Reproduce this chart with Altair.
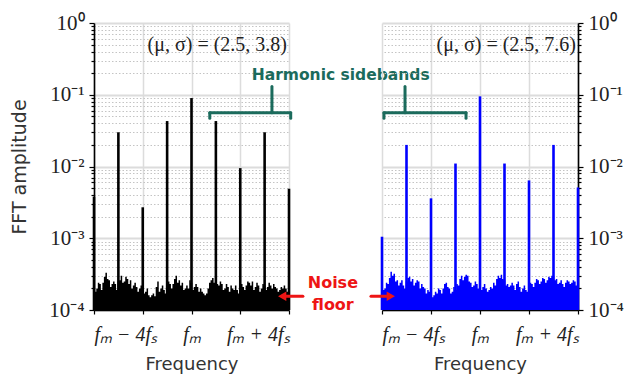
import altair as alt
import pandas as pd

# sideband order n, so frequency = f_m + n * f_s
orders = [-4, -3, -2, -1, 0, 1, 2, 3, 4]
peaks_left = [3.8e-3, 3.0e-2, 2.7e-3, 4.3e-2, 9.0e-2, 4.3e-2, 9.5e-3, 3.0e-2, 4.9e-3]
peaks_right = [1.05e-3, 2.0e-2, 3.6e-3, 1.1e-2, 9.5e-2, 1.1e-2, 6.4e-3, 2.0e-2, 5.1e-3]

# noise floor sampled every f_s/16 across the band, in units of 1e-4
noise_left = [
    2.2, 1.8, 2.0, 2.4, 2.3, 1.9, 2.4, 2.9, 3.3, 2.7,
    2.6, 2.1, 2.3, 2.5, 2.3, 1.9, 2.5, 2.6, 3.0, 2.4,
    2.5, 2.9, 2.7, 2.3, 2.6, 2.0, 2.2, 2.4, 2.1, 1.8,
    2.0, 2.2, 1.9, 1.7, 1.8, 2.0, 1.6, 1.5, 1.6, 1.7,
    1.55, 2.1, 2.5, 1.8, 2.0, 2.2, 1.9, 1.7, 2.0, 2.5,
    2.3, 2.0, 2.3, 2.7, 3.0, 2.4, 2.6, 2.2, 2.4, 1.9,
    2.0, 2.2, 2.0, 2.6, 2.4, 1.9, 2.1, 2.3, 2.1, 1.8,
    2.0, 1.8, 1.7, 1.6, 1.7, 2.0, 2.4, 2.6, 2.8, 2.4,
    2.8, 2.3, 2.2, 2.5, 2.3, 1.9, 2.0, 2.3, 2.1, 1.8,
    2.2, 2.0, 1.9, 2.2, 1.9, 1.7, 2.0, 2.3, 2.1, 1.9,
    2.2, 2.5, 2.4, 2.2, 2.5, 1.9, 2.1, 2.4, 2.2, 1.8,
    2.0, 2.3, 2.2, 1.9, 2.1, 2.4, 2.2, 2.0, 2.3, 2.1,
    2.0, 1.8, 1.9, 2.1, 2.0, 2.2, 2.0, 1.8, 1.9,
]
noise_right = [
    2.2, 1.9, 2.0, 2.4, 2.3, 2.8, 3.4, 3.0, 3.2, 2.5,
    2.6, 2.2, 2.4, 2.6, 2.2, 2.0, 2.5, 2.8, 2.9, 2.5,
    2.7, 2.2, 2.4, 2.6, 2.5, 2.0, 2.3, 2.1, 2.0, 1.7,
    1.9, 1.8, 1.7, 1.5, 1.6, 1.8, 1.7, 2.0, 1.9, 1.7,
    2.0, 2.3, 2.4, 2.1, 2.0, 1.7, 1.8, 2.1, 1.9, 2.3,
    2.2, 2.7, 3.0, 2.6, 2.9, 3.1, 3.0, 2.5, 2.4, 2.1,
    2.2, 2.5, 2.3, 2.0, 2.2, 1.9, 2.1, 2.3, 2.0, 1.8,
    1.9, 2.1, 2.0, 2.4, 2.2, 2.7, 3.0, 2.8, 3.1, 2.7,
    2.6, 2.2, 2.3, 2.1, 2.2, 2.4, 2.2, 1.9, 2.3, 2.5,
    2.1, 1.8, 2.0, 2.2, 1.9, 1.8, 2.0, 2.4, 2.3, 2.1,
    2.4, 2.7, 2.6, 2.3, 2.5, 2.8, 2.7, 2.4, 2.6, 2.9,
    2.8, 3.0, 3.0, 2.6, 2.7, 2.3, 2.4, 2.6, 2.3, 2.1,
    2.4, 2.6, 2.5, 2.3, 2.4, 2.6, 2.5, 2.2, 2.5,
]
noise_freq = [i / 16 - 4 for i in range(129)]

x_ticks = [-4, -2, 0, 2, 4]
y_ticks = [m * 10.0 ** d for d in range(-4, 0) for m in range(1, 10)] + [1.0]

TEAL = "#1b6b5c"
RED = "#ee1515"
SERIF = "Liberation Serif"
SANS = "DejaVu Sans"

EXP = "round(log(datum.value)/LN10)"
IS_MAJOR = f"abs(log(datum.value)/LN10 - {EXP}) < 1e-6"
Y_LABEL = (f"{IS_MAJOR} ? ({EXP} == 0 ? '10⁰' : {EXP} == -1 ? '10⁻¹' : "
           f"{EXP} == -2 ? '10⁻²' : {EXP} == -3 ? '10⁻³' : '10⁻⁴') : ''")
X_LABEL = ("datum.value == -4 ? 'fₘ − 4fₛ' : datum.value == 0 ? 'fₘ' : "
           "datum.value == 4 ? 'fₘ + 4fₛ' : ''")

x_scale = alt.Scale(domain=[-4, 4], nice=False, zero=False)
y_scale = alt.Scale(type="log", domain=[1e-4, 1], nice=False)


def panel(peaks, noise, color, side, y_title):
    spikes = pd.DataFrame({"f": orders, "amp": peaks, "base": 1e-4})
    floor = pd.DataFrame({"f": noise_freq, "amp": [v * 1e-4 for v in noise], "base": 1e-4})

    x_axis = alt.Axis(
        values=x_ticks, labelExpr=X_LABEL, title="Frequency",
        labelFont=SERIF, labelFontStyle="italic", labelFontSize=20, labelColor="#222",
        labelPadding=10, labelOverlap=False,
        titleFont=SANS, titleFontSize=18, titleFontWeight="normal", titleColor="#333",
        titlePadding=11, tickSize=4, tickWidth=1.2,
        grid=True, gridColor="#dcdcdc", gridWidth=1.5,
    )
    y_axis = alt.Axis(
        orient=side, values=y_ticks, labelExpr=Y_LABEL, title=y_title,
        labelFont=SERIF, labelFontSize=21, labelColor="#222", labelPadding=5,
        labelOverlap=False,
        titleFont=SANS, titleFontSize=19, titleFontWeight="normal", titleColor="#333",
        titlePadding=19,
        tickSize={"condition": {"test": IS_MAJOR, "value": 5}, "value": 3},
        tickWidth=1.2,
        grid=True,
        gridColor={"condition": {"test": IS_MAJOR, "value": "#dcdcdc"}, "value": "#c4c4c4"},
        gridWidth={"condition": {"test": IS_MAJOR, "value": 2}, "value": 1},
        gridDash={"condition": {"test": IS_MAJOR, "value": []}, "value": [1.5, 2]},
    )

    area = alt.Chart(floor).mark_area(interpolate="step", color=color, opacity=1).encode(
        x=alt.X("f:Q", scale=x_scale, axis=x_axis),
        y=alt.Y("amp:Q", scale=y_scale, axis=y_axis),
        y2="base:Q",
    )
    rules = alt.Chart(spikes).mark_rule(color=color, strokeWidth=2.6).encode(
        x="f:Q", y="amp:Q", y2="base:Q"
    )
    return area, rules


def segments(rows, color, width):
    df = pd.DataFrame(rows, columns=["x", "x2", "y", "y2"])
    return alt.Chart(df).mark_rule(color=color, strokeWidth=width, strokeCap="round").encode(
        x="x:Q", x2="x2:Q", y="y:Q", y2="y2:Q"
    )


def label(x, y, text, **kw):
    df = pd.DataFrame({"x": [x], "y": [y], "t": [text]})
    return alt.Chart(df).mark_text(**kw).encode(x="x:Q", y="y:Q", text="t:N")


def arrow_head(x, y, shape):
    df = pd.DataFrame({"x": [x], "y": [y]})
    return alt.Chart(df).mark_point(shape=shape, filled=True, color=RED, size=90, opacity=1).encode(
        x="x:Q", y="y:Q"
    )


# left panel
l_area, l_rules = panel(peaks_left, noise_left, "black", "left", "FFT amplitude")
left = alt.layer(
    l_area, l_rules,
    label(4, 0.5, "(μ, σ) = (2.5, 3.8)", align="right", dx=-2, font=SERIF, fontSize=20, color="#222"),
    segments([[0.75, 4.07, 0.056, 0.056], [0.75, 0.75, 0.056, 0.047],
              [4.07, 4.07, 0.056, 0.047], [3.3, 3.3, 0.056, 0.13]], TEAL, 3),
    label(6.12, 0.19, "Harmonic sidebands", font=SANS, fontSize=15.5, fontWeight="bold", color=TEAL),
    label(5.8, 2.37e-4, "Noise", font=SANS, fontSize=16, fontWeight="bold", color=RED),
    label(5.8, 1.17e-4, "floor", font=SANS, fontSize=16, fontWeight="bold", color=RED),
    segments([[4.57, 3.8, 1.56e-4, 1.56e-4]], RED, 3),
    arrow_head(3.72, 1.56e-4, "triangle-left"),
).properties(width=195, height=287)

# right panel
r_area, r_rules = panel(peaks_right, noise_right, "#0000ff", "right", None)
right = alt.layer(
    r_area, r_rules,
    label(4, 0.5, "(μ, σ) = (2.5, 7.6)", align="right", dx=-2, font=SERIF, fontSize=20, color="#222"),
    segments([[-3.92, -0.57, 0.056, 0.056], [-3.92, -3.92, 0.056, 0.047],
              [-0.57, -0.57, 0.056, 0.047], [-3.06, -3.06, 0.056, 0.13]], TEAL, 3),
    segments([[-4.45, -3.72, 1.56e-4, 1.56e-4]], RED, 3),
    arrow_head(-3.64, 1.56e-4, "triangle-right"),
).properties(width=196, height=287)

chart = alt.hconcat(left, right, spacing=93, bounds="flush").properties(
    padding={"left": 10, "top": 12, "right": 4, "bottom": 4}
).configure_view(stroke=None).configure_axis(
    domainColor="black", domainWidth=1.6, tickColor="black"
)

chart.save("out.html", embed_options={"renderer": "svg", "actions": False})
